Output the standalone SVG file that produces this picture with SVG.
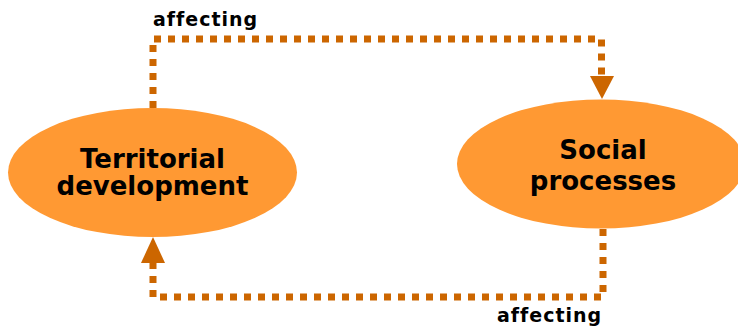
<svg xmlns="http://www.w3.org/2000/svg" width="738" height="326" viewBox="0 0 738 326">
<style>
.node{fill:#FF9933}
.lbl{font-family:"DejaVu Sans",Verdana,sans-serif;font-weight:bold;fill:#000}
.big{font-size:26px;text-anchor:middle}
.small{font-size:19px;letter-spacing:1px}
.conn{fill:none;stroke:#CC6600;stroke-width:7;stroke-dasharray:7 7}
.head{fill:#CC6600}
</style>
<rect width="738" height="326" fill="#fff"/>
<g id="territorial">
<ellipse class="node" cx="152.5" cy="172.5" rx="144.5" ry="64.5"/>
<text class="lbl big" x="152.5" y="168">Territorial</text>
<text class="lbl big" x="152.5" y="195">development</text>
</g>
<g id="social">
<ellipse class="node" cx="601" cy="164" rx="144" ry="64.5"/>
<text class="lbl big" x="603" y="159">Social</text>
<text class="lbl big" x="603" y="190">processes</text>
</g>
<g id="connectors">
<path class="conn" d="M153,108 V39 H601.5 V76"/>
<polygon class="head" points="590,76 614,76 602,99"/>
<text class="lbl small" x="153" y="26">affecting</text>
<path class="conn" d="M603,229 V297 H153 V263"/>
<polygon class="head" points="141,263 165,263 153,237"/>
<text class="lbl small" x="497" y="322">affecting</text>
</g>
</svg>
